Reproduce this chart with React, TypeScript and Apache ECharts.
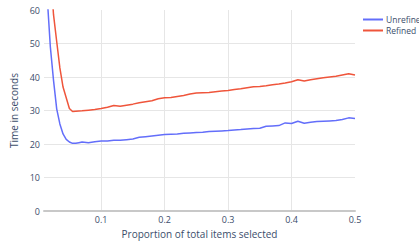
import React, { useEffect, useRef } from "react";
import * as echarts from "echarts";

const proportions: number[] = [
  0.01, 0.015, 0.02, 0.025, 0.03, 0.035, 0.04, 0.045, 0.05, 0.055, 0.06, 0.065,
  0.07, 0.08, 0.09, 0.1, 0.11, 0.12, 0.13, 0.14, 0.15, 0.16, 0.17, 0.18, 0.19,
  0.2, 0.21, 0.22, 0.23, 0.24, 0.25, 0.26, 0.27, 0.28, 0.29, 0.3, 0.31, 0.32,
  0.33, 0.34, 0.35, 0.36, 0.37, 0.38, 0.39, 0.4, 0.41, 0.42, 0.43, 0.44, 0.45,
  0.46, 0.47, 0.48, 0.49, 0.5,
];

const unrefined: number[] = [
  85, 64, 49, 39, 30.5, 26, 23, 21.4, 20.6, 20.2, 20.2, 20.4,
  20.6, 20.4, 20.7, 20.9, 20.9, 21.1, 21.1, 21.3, 21.5, 22.0, 22.2, 22.4, 22.6,
  22.8, 22.9, 23.0, 23.2, 23.3, 23.4, 23.5, 23.7, 23.8, 23.9, 24.0, 24.2, 24.3,
  24.5, 24.6, 24.7, 25.3, 25.4, 25.5, 26.3, 26.1, 26.8, 26.2, 26.5, 26.7, 26.8,
  26.9, 27.0, 27.3, 27.8, 27.6,
];

const refined: number[] = [
  95, 82, 72, 58.6, 50.6, 42.7, 37.0, 33.8, 30.6, 29.7, 29.8, 29.85,
  29.9, 30.1, 30.3, 30.6, 31.0, 31.5, 31.3, 31.6, 31.9, 32.3, 32.6, 32.9, 33.5,
  33.8, 33.9, 34.2, 34.5, 34.9, 35.2, 35.3, 35.4, 35.6, 35.8, 36.0, 36.3, 36.5,
  36.8, 37.1, 37.2, 37.4, 37.7, 37.9, 38.2, 38.6, 39.2, 38.8, 39.2, 39.5, 39.8,
  40.0, 40.2, 40.6, 41.0, 40.6,
];

const xTicks: number[] = [0.1, 0.2, 0.3, 0.4, 0.5];
const seriesNames: string[] = ["Unrefined", "Refined"];
const xTitle = "Proportion of total items selected";
const yTitle = "Time in seconds";

export default function App() {
  const ref = useRef<HTMLDivElement>(null);
  useEffect(() => {
    document.body.style.margin = "0";
    const chart = echarts.init(ref.current!, null, { renderer: "svg" });
    const textColor = "#3b4d6b";
    const font = "Open Sans";
    chart.setOption({
      animation: false,
      backgroundColor: "#ffffff",
      textStyle: { fontFamily: font },
      grid: { left: 44, right: 64, top: 10, bottom: 35, containLabel: false },
      legend: {
        orient: "vertical",
        left: 363,
        top: 15,
        padding: 0,
        itemWidth: 20,
        itemHeight: 2,
        itemGap: 2,
        icon: "rect",
        textStyle: { color: textColor, fontSize: 8.5, fontFamily: font, padding: [0, 0, 0, -2] },
        data: seriesNames,
      },
      xAxis: {
        type: "value",
        min: 0.01,
        max: 0.5,
        name: xTitle,
        nameLocation: "middle",
        nameGap: 17,
        nameTextStyle: { color: textColor, fontSize: 10, fontFamily: font },
        axisLine: { show: true, lineStyle: { color: "#c8c8c8", width: 2 } },
        axisTick: { show: false, customValues: xTicks },
        axisLabel: {
          customValues: xTicks,
          color: textColor,
          fontSize: 9,
          margin: 4,
          fontFamily: font,
          formatter: (v: number) => String(Math.round(v * 10) / 10),
        },
        splitLine: { show: true, showMaxLine: false, lineStyle: { color: "#e6e6e6", width: 1 } },
      },
      yAxis: {
        type: "value",
        min: 0,
        max: 60,
        interval: 10,
        name: yTitle,
        nameLocation: "middle",
        nameGap: 24,
        nameTextStyle: { color: textColor, fontSize: 10, fontFamily: font },
        axisLine: { show: false },
        axisTick: { show: false },
        axisLabel: { color: textColor, fontSize: 9, margin: 4, fontFamily: font },
        splitLine: {
          show: true,
          showMinLine: false,
          showMaxLine: false,
          lineStyle: { color: "#e6e6e6", width: 1 },
        },
      },
      series: [
        {
          name: seriesNames[0],
          type: "line",
          data: proportions.map((x, i) => [x, unrefined[i]]),
          showSymbol: false,
          smooth: false,
          clip: true,
          lineStyle: { color: "#636efa", width: 1.5 },
          itemStyle: { color: "#636efa" },
        },
        {
          name: seriesNames[1],
          type: "line",
          data: proportions.map((x, i) => [x, refined[i]]),
          showSymbol: false,
          smooth: false,
          clip: true,
          lineStyle: { color: "#EF553B", width: 1.5 },
          itemStyle: { color: "#EF553B" },
        },
      ],
    });
    return () => chart.dispose();
  }, []);
  return <div ref={ref} style={{ width: 419, height: 246 }} />;
}
